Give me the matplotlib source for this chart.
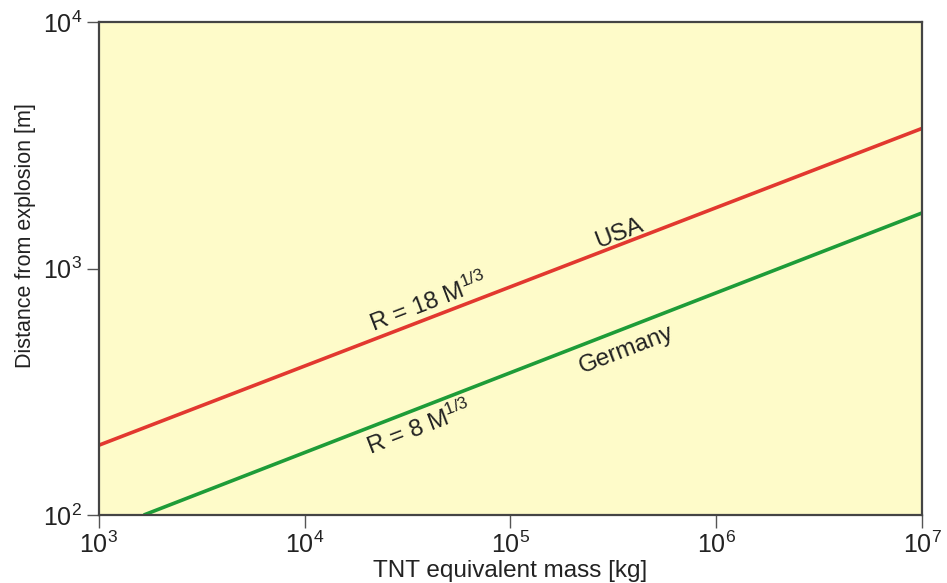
import numpy as np
import matplotlib
matplotlib.use('Agg')
import matplotlib.pyplot as plt

plt.rcParams['font.family'] = ['Liberation Sans', 'DejaVu Sans']
plt.rcParams['mathtext.fontset'] = 'custom'
plt.rcParams['mathtext.rm'] = 'Liberation Sans'
plt.rcParams['mathtext.it'] = 'Liberation Sans:italic'

# values
usa_mass = [1e3, 1e7]
usa_dist = [192, 3700]
ger_mass = [1.65e3, 1e7]
ger_dist = [100, 1680]

fig = plt.figure(figsize=(9.47, 5.83), dpi=100)
ax = fig.add_axes([0.1045, 0.1166, 0.8691, 0.8457])
ax.set_facecolor('#fefbc9')

ax.plot(usa_mass, usa_dist, color='#e2382f', lw=2.6, solid_capstyle='butt')
ax.plot(ger_mass, ger_dist, color='#1e9c38', lw=2.6, solid_capstyle='butt')

ax.set_xscale('log')
ax.set_yscale('log')
ax.set_xlim(1e3, 1e7)
ax.set_ylim(1e2, 1e4)
ax.minorticks_off()
ax.set_xticks([1e3, 1e4, 1e5, 1e6, 1e7])
ax.set_yticks([1e2, 1e3, 1e4])
ax.tick_params(direction='out', length=9, width=1, color='#555555',
               labelsize=18, pad=3, labelcolor='#222222')
for s in ax.spines.values():
    s.set_color('#444444')
    s.set_linewidth(1.6)

ax.set_xlabel('TNT equivalent mass [kg]', fontsize=17.5, color='#222222')
ax.set_ylabel('Distance from explosion [m]', fontsize=15.5, color='#222222')
ax.xaxis.set_label_coords(0.5, -0.092)
ax.yaxis.set_label_coords(-0.077, 0.566)

ang = 21
kw = dict(fontsize=17.5, rotation=ang, rotation_mode='anchor', ha='center', va='center', color='#222222')
ax.text(3.37e5, 1.39e3, 'USA', **kw)
ax.text(4.0e4, 7.3e2, r'R = 18 M$^{\mathregular{1/3}}$', **kw)
ax.text(3.6e4, 2.25e2, r'R = 8 M$^{\mathregular{1/3}}$', **kw)
ax.text(3.64e5, 4.67e2, 'Germany', **kw)

fig.savefig('out.png', dpi=100)
